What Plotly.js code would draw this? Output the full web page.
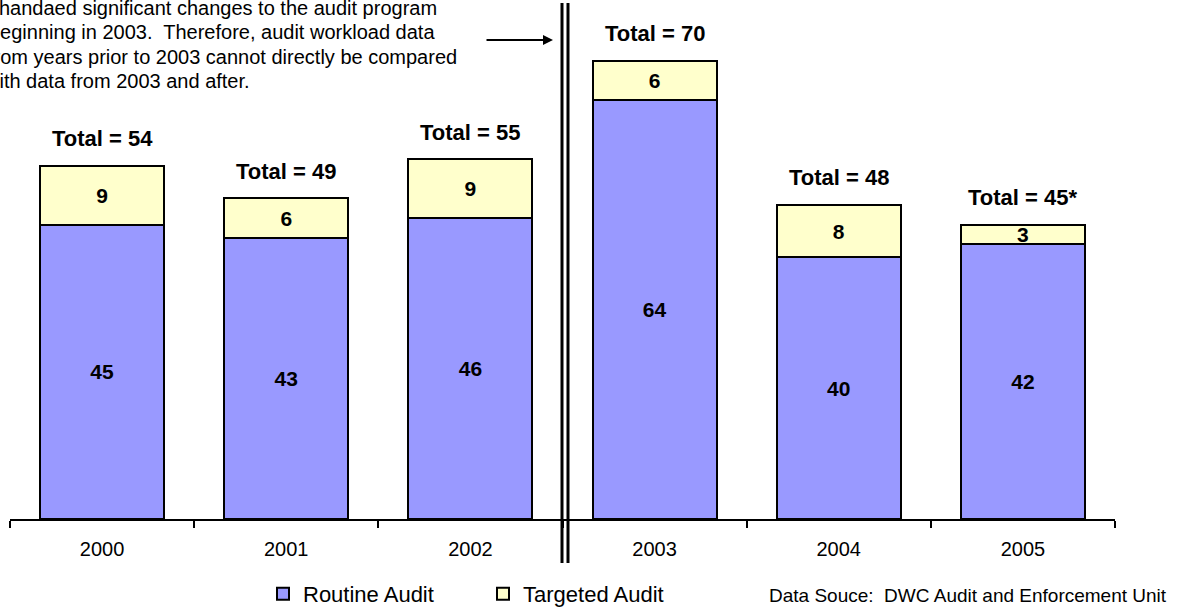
<!DOCTYPE html>
<html>
<head>
<meta charset="utf-8">
<script src="https://cdn.plot.ly/plotly-3.0.1.min.js"></script>
<style>html,body{margin:0;padding:0;background:#fff;}#chart{width:1182px;height:607px;}</style>
</head>
<body>
<div id="chart"></div>
<script>
var years = ['2000', '2001', '2002', '2003', '2004', '2005'];
var routine = [45, 43, 46, 64, 40, 42];
var targeted = [9, 6, 9, 6, 8, 3];
var totalLabels = ['Total = 54', 'Total = 49', 'Total = 55', 'Total = 70', 'Total = 48', 'Total = 45*'];
var noteLines = [
  'handaed significant changes to the audit program',
  'beginning in 2003.  Therefore, audit workload data',
  'from years prior to 2003 cannot directly be compared',
  'with data from 2003 and after.'
];
var sourceText = 'Data Souce:\u00a0\u00a0DWC Audit and Enforcement Unit';

var FONT = '"Liberation Sans", Arial, sans-serif';
var W = 1182, H = 607, ML = 10, MR = 67, MT = 0, MB = 88;
var PW = W - ML - MR, PH = H - MT - MB;
function px(x) { return (x - ML) / PW; }
function py(y) { return (MT + PH - y) / PH; }

var totals = routine.map(function (v, i) { return v + targeted[i]; });

var common = {
  type: 'bar', x: years, textposition: 'inside', insidetextanchor: 'middle',
  textangle: 0, constraintext: 'none', hoverinfo: 'skip',
  textfont: {family: FONT, size: 21, color: '#000', weight: 'bold'}
};
var tRoutine = Object.assign({}, common, {
  name: 'Routine Audit', y: routine, text: routine.map(String),
  marker: {color: '#9999FF', line: {color: '#000', width: 2}}
});
var tTargeted = Object.assign({}, common, {
  name: 'Targeted Audit', y: targeted, text: targeted.map(String),
  marker: {color: '#FFFFCC', line: {color: '#000', width: 2}}
});

var annotations = years.map(function (yr, i) {
  return {x: i, y: totals[i], xref: 'x', yref: 'y', text: '<b>' + totalLabels[i] + '</b>',
    showarrow: false, yanchor: 'middle', yshift: 27,
    font: {family: FONT, size: 22, color: '#000'}};
});
var noteY = [8, 32, 57, 81];
var noteX = [-3, -13, -14, -18];
noteLines.forEach(function (t, i) {
  annotations.push({x: px(noteX[i]), y: py(noteY[i]), xref: 'paper', yref: 'paper',
    text: t, showarrow: false, xanchor: 'left', yanchor: 'middle', align: 'left',
    font: {family: FONT, size: 20, color: '#000'}});
});
annotations.push({x: px(553), y: py(40), xref: 'paper', yref: 'paper', text: '',
  showarrow: true, ax: -68, ay: 0, axref: 'pixel', ayref: 'pixel',
  arrowhead: 2, arrowsize: 1, arrowwidth: 2, arrowcolor: '#000', standoff: 0});
annotations.push({x: px(767), y: py(595), xref: 'paper', yref: 'paper', text: sourceText,
  showarrow: false, xanchor: 'left', yanchor: 'middle',
  font: {family: FONT, size: 19, color: '#000'}});

var shapes = [562, 568].map(function (xp) {
  return {type: 'line', xref: 'paper', x0: px(xp), x1: px(xp),
    yref: 'paper', y0: py(563), y1: py(3), line: {color: '#000', width: 3}};
});

var layout = {
  width: W, height: H, margin: {l: ML, r: MR, t: MT, b: MB, autoexpand: false},
  paper_bgcolor: '#fff', plot_bgcolor: '#fff',
  barmode: 'stack', bargap: 0.327, showlegend: true,
  font: {family: FONT, color: '#000'},
  xaxis: {type: 'category', range: [-0.5, 5.5], autorange: false, tickson: 'boundaries',
    ticks: 'outside', ticklen: 7, tickangle: 0, ticklabelstandoff: 11,
    tickwidth: 2, tickcolor: '#000', showline: true, linecolor: '#000', linewidth: 2,
    showgrid: false, zeroline: false, fixedrange: true,
    tickfont: {family: FONT, size: 20, color: '#000'}},
  yaxis: {visible: false, range: [0, PH / 6.543], autorange: false, fixedrange: true},
  legend: {orientation: 'h', x: px(263), y: py(573), xanchor: 'left', yanchor: 'top',
    traceorder: 'normal', font: {family: FONT, size: 22, color: '#000'},
    entrywidth: 175, entrywidthmode: 'pixels', bgcolor: 'rgba(0,0,0,0)'},
  annotations: annotations, shapes: shapes
};

Plotly.newPlot('chart', [tRoutine, tTargeted], layout, {staticPlot: true, displayModeBar: false});
</script>
</body>
</html>
